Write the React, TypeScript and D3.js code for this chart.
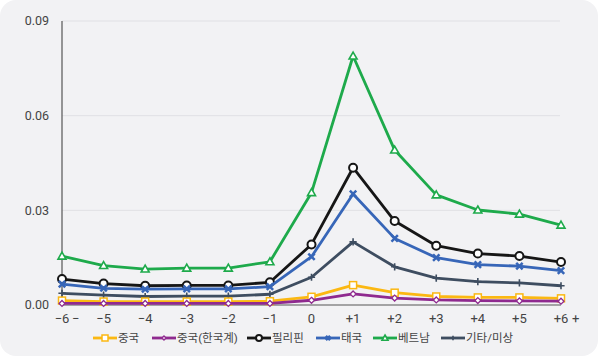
import React, { useEffect, useRef } from "react";
import * as d3 from "d3";

const periods = ["−6", "−5", "−4", "−3", "−2", "−1", "0", "+1", "+2", "+3", "+4", "+5", "+6"];
const yTicks = [0, 0.03, 0.06, 0.09];

const china = [0.0014, 0.0011, 0.0011, 0.0011, 0.0011, 0.0012, 0.0026, 0.0063, 0.0039, 0.0027, 0.0024, 0.0024, 0.0021];
const chinaKorean = [0.0005, 0.0005, 0.0005, 0.0005, 0.0005, 0.0005, 0.0015, 0.0035, 0.0022, 0.0016, 0.0014, 0.0013, 0.0012];
const philippines = [0.0082, 0.0068, 0.0061, 0.0062, 0.0062, 0.0072, 0.0192, 0.0435, 0.0266, 0.0188, 0.0163, 0.0155, 0.0136];
const thailand = [0.0066, 0.0053, 0.005, 0.0051, 0.0051, 0.0058, 0.0153, 0.0352, 0.0211, 0.015, 0.0128, 0.0123, 0.0109];
const vietnam = [0.0155, 0.0125, 0.0114, 0.0117, 0.0117, 0.0137, 0.0356, 0.0789, 0.0491, 0.0349, 0.0301, 0.0288, 0.0253];
const other = [0.0037, 0.0031, 0.0027, 0.0028, 0.0028, 0.0034, 0.0088, 0.02, 0.0121, 0.0085, 0.0074, 0.007, 0.0061];

const seriesList = [
  { name: "중국", values: china, color: "#fbb812", marker: "square" },
  { name: "중국(한국계)", values: chinaKorean, color: "#8f2a8f", marker: "diamond" },
  { name: "필리핀", values: philippines, color: "#161616", marker: "circle" },
  { name: "태국", values: thailand, color: "#3766b8", marker: "x" },
  { name: "베트남", values: vietnam, color: "#1eaa4b", marker: "triangle" },
  { name: "기타/미상", values: other, color: "#3e4d60", marker: "plus" },
];

const font = "Roboto, 'Noto Sans CJK KR', sans-serif";

function drawMarker(g: any, type: string, color: string, size: number) {
  if (type === "square") {
    g.append("rect").attr("x", -size).attr("y", -size).attr("width", size * 2).attr("height", size * 2)
      .attr("fill", "#fff").attr("stroke", color).attr("stroke-width", 1.5);
  } else if (type === "diamond") {
    const s = size * 0.9;
    g.append("path").attr("d", `M0,${-s}L${s},0L0,${s}L${-s},0Z`)
      .attr("fill", "#fff").attr("stroke", color).attr("stroke-width", 1.3);
  } else if (type === "circle") {
    g.append("circle").attr("r", size).attr("fill", "#fff").attr("stroke", color).attr("stroke-width", 2);
  } else if (type === "x") {
    const s = size * 0.8;
    g.append("path").attr("d", `M${-s},${-s}L${s},${s}M${s},${-s}L${-s},${s}`)
      .attr("stroke", color).attr("stroke-width", 2.5).attr("fill", "none");
  } else if (type === "triangle") {
    const s = size;
    g.append("path").attr("d", `M0,${-s}L${s},${s * 0.75}L${-s},${s * 0.75}Z`)
      .attr("fill", "#fff").attr("stroke", color).attr("stroke-width", 1.6);
  } else if (type === "plus") {
    const s = size * 0.9;
    g.append("path").attr("d", `M${-s},0L${s},0M0,${-s}L0,${s}`)
      .attr("stroke", color).attr("stroke-width", 1.6).attr("fill", "none");
  }
}

const App = () => {
  const ref = useRef<SVGSVGElement>(null);

  useEffect(() => {
    const svg = d3.select(ref.current);
    svg.selectAll("*").remove();

    const left = 62;
    const right = 561;
    const top = 21;
    const bottom = 305;

    svg.append("rect").attr("x", 0).attr("y", 0).attr("width", 598).attr("height", 356)
      .attr("rx", 16).attr("fill", "#f2f2f4");

    const x = d3.scalePoint().domain(periods).range([left, right]);
    const y = d3.scaleLinear().domain([0, 0.09]).range([bottom, top]);

    // gridlines
    svg.append("g").selectAll("line").data(yTicks.slice(1)).enter().append("line")
      .attr("x1", left).attr("x2", right - 1)
      .attr("y1", (d) => y(d)).attr("y2", (d) => y(d))
      .attr("stroke", "#e0e0e4").attr("stroke-width", 1);

    // y labels
    svg.append("g").selectAll("text").data(yTicks).enter().append("text")
      .attr("x", 49).attr("y", (d) => y(d)).attr("dy", "0.35em")
      .attr("text-anchor", "end").attr("font-family", font).attr("font-size", 12.5)
      .attr("fill", "#444").text((d) => d.toFixed(2));

    // axes lines
    svg.append("line").attr("x1", left).attr("x2", left).attr("y1", top).attr("y2", bottom)
      .attr("stroke", "#555").attr("stroke-width", 1.2);
    svg.append("line").attr("x1", left).attr("x2", right).attr("y1", bottom).attr("y2", bottom)
      .attr("stroke", "#555").attr("stroke-width", 1.2);

    // x labels
    const xl = svg.append("g").attr("font-family", font).attr("font-size", 13).attr("fill", "#444");
    periods.forEach((p) => {
      xl.append("text").attr("x", x(p)!).attr("y", 323).attr("text-anchor", "middle").text(p);
    });
    xl.append("text").attr("x", x(periods[0])! + 10).attr("y", 323).text("−");
    xl.append("text").attr("x", x(periods[periods.length - 1])! + 11).attr("y", 323).text("+");

    // lines
    const line = d3.line<number>().x((_, i) => x(periods[i])!).y((d) => y(d));
    const drawOrder = [4, 2, 3, 5, 0, 1];
    drawOrder.forEach((si) => {
      const s = seriesList[si];
      svg.append("path").datum(s.values).attr("d", line).attr("fill", "none")
        .attr("stroke", s.color).attr("stroke-width", 2.8).attr("stroke-linejoin", "round");
      const size = s.marker === "diamond" ? 3.3 : s.marker === "square" ? 3.5 : 4;
      s.values.forEach((v, i) => {
        const g = svg.append("g").attr("transform", `translate(${x(periods[i])},${y(v)})`);
        drawMarker(g, s.marker, s.color, size);
      });
    });

    // legend
    const legendX = [93, 152, 247, 316, 373, 441];
    const ly = 338;
    seriesList.forEach((s, i) => {
      const g = svg.append("g").attr("transform", `translate(${legendX[i]},${ly})`);
      g.append("line").attr("x1", 0).attr("x2", 24).attr("y1", 0).attr("y2", 0)
        .attr("stroke", s.color).attr("stroke-width", 2.8);
      const m = g.append("g").attr("transform", "translate(12,0)");
      drawMarker(m, s.marker, s.color, s.marker === "diamond" ? 2.2 : s.marker === "plus" || s.marker === "x" ? 2.6 : 3);
      g.append("text").attr("x", 25).attr("y", 0).attr("dy", "0.36em")
        .attr("font-family", font).attr("font-size", 11.5).attr("fill", "#444").text(s.name);
    });
  }, []);

  return (
    <svg ref={ref} width={600} height={358}
      style={{ position: "absolute", left: 0, top: 0, display: "block", background: "#fff" }} />
  );
};

export default App;
